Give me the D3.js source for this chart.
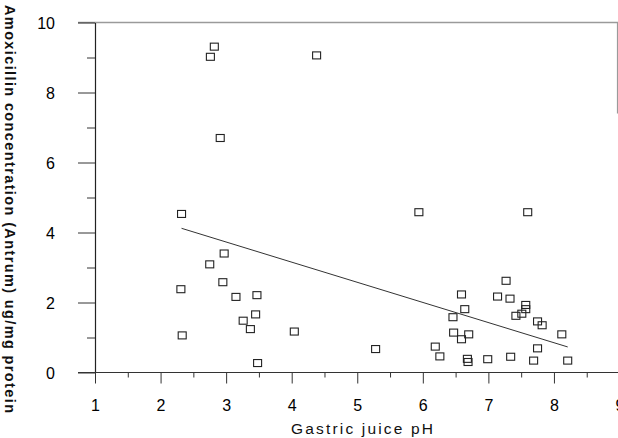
<!DOCTYPE html>
<html><head><meta charset="utf-8">
<script src="https://cdn.jsdelivr.net/npm/d3@7"></script>
<style>body{margin:0;background:#fff}svg{display:block}</style>
</head><body>
<script>
const phValues = [2.32,2.31,2.33,2.82,2.76,2.91,4.38,2.75,2.97,2.95,3.15,3.47,3.26,3.45,3.37,3.48,4.04,
  5.28,5.94,7.60,7.27,6.59,7.14,7.33,7.57,7.57,6.64,7.42,7.51,6.46,7.75,7.82,6.47,6.59,6.70,8.12,6.19,6.26,6.68,6.69,6.99,7.34,7.69,7.75,8.21];
const amoxValues = [4.53,2.38,1.06,9.31,9.02,6.70,9.06,3.09,3.40,2.58,2.16,2.21,1.48,1.66,1.24,0.27,1.17,
  0.67,4.58,4.58,2.62,2.23,2.17,2.11,1.93,1.81,1.81,1.62,1.68,1.58,1.46,1.35,1.14,0.95,1.09,1.09,0.74,0.46,0.39,0.30,0.38,0.45,0.34,0.69,0.34];
const fitX = [2.32, 8.21];
const fitY = [4.12, 0.73];
const xTicks = [1,2,3,4,5,6,7,8,9];
const yTicks = [0,2,4,6,8,10];
const xTitle = "Gastric juice pH";
const yTitle = "Amoxicillin concentration (Antrum) ug/mg protein";

const W = 618, H = 438;
const svg = d3.select("body").append("svg").attr("width", W).attr("height", H);
const x = d3.scaleLinear().domain([1, 9]).range([95, 619.5]);
const y = d3.scaleLinear().domain([0, 10]).range([372.5, 22.5]);
const font = "Arial, 'Liberation Sans', Helvetica, sans-serif";

// top border (gray) and partial right border
svg.append("line").attr("x1", 78).attr("x2", 618).attr("y1", y(10)).attr("y2", y(10))
  .attr("stroke", "#9a9a9a").attr("stroke-width", 1.5);
svg.append("line").attr("x1", 617.5).attr("x2", 617.5).attr("y1", y(10)).attr("y2", y(7.4))
  .attr("stroke", "#9a9a9a").attr("stroke-width", 1.2);

// Left axis
const yAxis = d3.axisLeft(y).tickValues(d3.range(0, 11, 1)).tickSize(0).tickFormat("");
const gy = svg.append("g").attr("transform", "translate(95,0)").call(yAxis);
gy.select(".domain").attr("stroke", "#222").attr("stroke-width", 1.2);
gy.selectAll(".tick line").attr("x2", d => d % 2 === 0 ? -17 : -8).attr("stroke", "#333").attr("stroke-width", 1);
gy.selectAll(".tick").filter(d => yTicks.includes(d)).append("text")
  .attr("x", -40).attr("dy", "0.35em").attr("text-anchor", "end")
  .attr("fill", "#000").style("font-family", font).style("font-size", "16px").text(d => d);

// Bottom axis
const xAxis = d3.axisBottom(x).tickValues(d3.range(1, 9.01, 0.5)).tickSize(0).tickFormat("");
const gx = svg.append("g").attr("transform", `translate(0,${y(0)})`).call(xAxis);
gx.select(".domain").remove();
gx.append("line").attr("x1", 78).attr("x2", 618).attr("stroke", "#333").attr("stroke-width", 1.2);
gx.selectAll(".tick line").attr("y2", d => Number.isInteger(d) ? 11 : 5).attr("stroke", "#333").attr("stroke-width", 1);
gx.selectAll(".tick").filter(d => xTicks.includes(d)).append("text")
  .attr("y", 38).attr("text-anchor", "middle")
  .attr("fill", "#000").style("font-family", font).style("font-size", "16px").text(d => d);

// regression line
svg.append("line")
  .attr("x1", x(fitX[0])).attr("y1", y(fitY[0]))
  .attr("x2", x(fitX[1])).attr("y2", y(fitY[1]))
  .attr("stroke", "#333").attr("stroke-width", 1);

// points
const pts = phValues.map((v, i) => ({ph: v, a: amoxValues[i]}));
svg.append("g").selectAll("rect").data(pts).join("rect")
  .attr("x", d => x(d.ph) - 4).attr("y", d => y(d.a) - 3.5)
  .attr("width", 8).attr("height", 7)
  .attr("fill", "none").attr("stroke", "#222").attr("stroke-width", 1.1);

// titles
svg.append("text").attr("x", 291).attr("y", 434).attr("textLength", 142).attr("lengthAdjust", "spacing")
  .attr("fill", "#111").style("font-family", font).style("font-size", "15.5px")
  .text(xTitle);
svg.append("text").attr("transform", "translate(5,5) rotate(90)").attr("textLength", 408).attr("lengthAdjust", "spacing")
  .attr("fill", "#111").style("font-family", font).style("font-size", "14.5px").style("font-weight", "bold")
  .text(yTitle);
</script>
</body></html>
